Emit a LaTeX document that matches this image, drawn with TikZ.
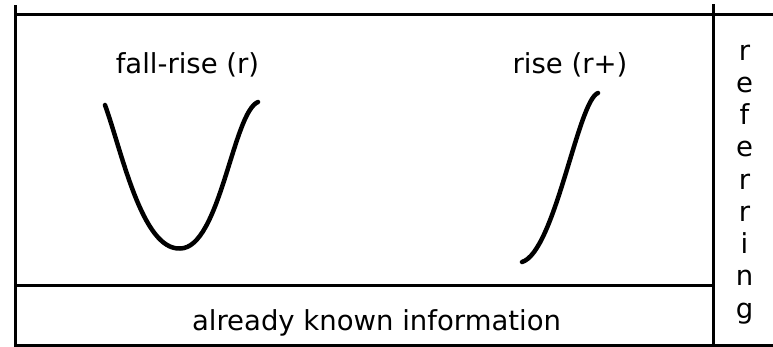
\documentclass[tikz,border=0pt]{standalone}
\usepackage{fontspec}
\setmainfont{DejaVu Sans}
\begin{document}
\begin{tikzpicture}[x=1pt,y=-1pt,
  frame/.style={line width=3pt,black},
  contour/.style={line width=4.5pt,line cap=round,line join=round},
  lbl/.style={inner sep=0pt,anchor=base,font=\fontsize{27.5}{32}\selectfont}]
\useasboundingbox (0,0) rectangle (773,346);
% frame lines
\coordinate (tl) at (15.5,5);
\coordinate (bl) at (15.5,346);
\coordinate (tr) at (713,4);
\coordinate (br) at (713,346);
\coordinate (htl) at (14,14);
\coordinate (htr) at (773,14);
\coordinate (hml) at (15.5,285);
\coordinate (hmr) at (713,285);
\coordinate (hbl) at (14,345.5);
\coordinate (hbr) at (773,345.5);
\draw[frame] (htl) -- (htr);
\draw[frame] (tl) -- (bl);
\draw[frame] (tr) -- (br);
\draw[frame] (hml) -- (hmr);
\draw[frame] (hbl) -- (hbr);
% labels
\node[lbl] (fr) at (187.5,73) {fall-rise (r)};
\node[lbl] (ri) at (570,73) {rise (r+)};
\node[lbl] (ak) at (376.5,330) {already known information};
\foreach \c [count=\i] in {r,e,f,e,r,r,i,n,g}
  \node[lbl] (ref\i) at (744.5,{60+32.25*(\i-1)}) {\c};
% contours
\coordinate (fa) at (105,105);
\coordinate (fb) at (180,248.5);
\coordinate (fc) at (258,102);
\draw[contour] (fa) .. controls (122,152) and (142,250) .. (fb)
                    .. controls (220,248.5) and (233,112) .. (fc);
\coordinate (ra) at (522,262);
\coordinate (rb) at (598,93);
\draw[contour] (ra) .. controls (555,252) and (578,100) .. (rb);
\end{tikzpicture}
\end{document}
